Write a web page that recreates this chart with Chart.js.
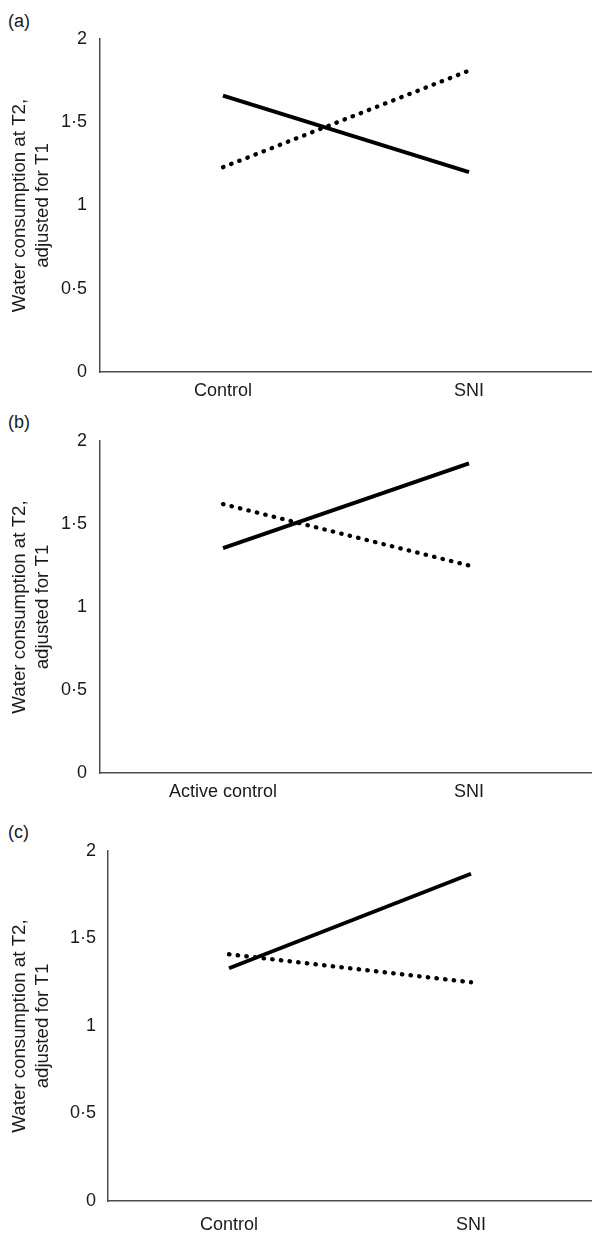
<!DOCTYPE html>
<html>
<head>
<meta charset="utf-8">
<script src="https://cdn.jsdelivr.net/npm/chart.js@4.4.1/dist/chart.umd.min.js"></script>
<style>
  body { margin: 0; background: #fff; }
  #wrap { position: relative; width: 592px; height: 1233px; }
  canvas { position: absolute; left: 0; }
  .lbl { position: absolute; left: 8px; font: 18px "Liberation Sans", Arial, sans-serif; line-height: 18px; color: #1a1a1a; }
</style>
</head>
<body>
<div id="wrap">
  <div class="lbl" style="top:12px">(a)</div>
  <canvas id="chartA" width="592" height="405" style="top:0px"></canvas>
  <div class="lbl" style="top:413px">(b)</div>
  <canvas id="chartB" width="592" height="410" style="top:405px"></canvas>
  <div class="lbl" style="top:823px">(c)</div>
  <canvas id="chartC" width="592" height="418" style="top:815px"></canvas>
</div>
<script>
// data
var categoriesA = ['Control', 'SNI'];
var solidA = [1.66, 1.20];
var dottedA = [1.23, 1.81];

var categoriesB = ['Active control', 'SNI'];
var solidB = [1.355, 1.865];
var dottedB = [1.62, 1.25];

var categoriesC = ['Control', 'SNI'];
var solidC = [1.33, 1.87];
var dottedC = [1.41, 1.25];

var yTicks = [0, 0.5, 1, 1.5, 2];
var yTickLabels = ['0', '0·5', '1', '1·5', '2'];
var yTitle = ['Water consumption at T2,', 'adjusted for T1'];

var FONT = '"Liberation Sans", Arial, sans-serif';
var TEXT = '#1a1a1a';
var AXIS = '#4d4d4d';

function makePanel(id, cats, solid, dotted, g) {
    var ctx = document.getElementById(id).getContext('2d');
    return new Chart(ctx, {
        type: 'line',
        data: {
            labels: cats,
            datasets: [
                { data: solid, borderColor: '#000', borderWidth: 4, pointRadius: 0,
                  borderCapStyle: 'butt', tension: 0, fill: false },
                { data: dotted, borderColor: '#000', borderWidth: 4.3, pointRadius: 0,
                  borderCapStyle: 'round', borderDash: [0.5, 8.2], tension: 0, fill: false }
            ]
        },
        options: {
            responsive: false,
            animation: false,
            devicePixelRatio: 1,
            layout: { padding: { top: g.top, right: 0, bottom: 0, left: 0 } },
            plugins: { legend: { display: false }, tooltip: { enabled: false } },
            scales: {
                x: {
                    type: 'category',
                    offset: true,
                    grid: { display: false, drawTicks: false },
                    border: { display: true, color: AXIS, width: 1.5 },
                    ticks: { color: TEXT, font: { family: FONT, size: 18 }, padding: g.xPad, maxRotation: 0 },
                    afterFit: function (s) { s.height = g.h - g.bottom; }
                },
                y: {
                    min: 0, max: 2,
                    grid: { display: false, drawTicks: false },
                    border: { display: true, color: AXIS, width: 1.5 },
                    afterBuildTicks: function (s) {
                        s.ticks = yTicks.map(function (v) { return { value: v }; });
                    },
                    ticks: {
                        color: TEXT, font: { family: FONT, size: 18 }, padding: g.yPad,
                        callback: function (v) { return yTickLabels[yTicks.indexOf(v)]; }
                    },
                    title: {
                        display: true, text: yTitle, color: TEXT,
                        font: { family: FONT, size: 18.7, lineHeight: 1.22 },
                        padding: { top: 8.5, bottom: 0 }
                    },
                    afterFit: function (s) { s.width = g.left; }
                }
            }
        }
    });
}

makePanel('chartA', categoriesA, solidA, dottedA, { h: 405, top: 39, bottom: 372, left: 100, xPad: 8.5, yPad: 13 });
makePanel('chartB', categoriesB, solidB, dottedB, { h: 410, top: 36, bottom: 368, left: 100, xPad: 8.5, yPad: 13 });
makePanel('chartC', categoriesC, solidC, dottedC, { h: 418, top: 36, bottom: 386, left: 108, xPad: 13.5, yPad: 12 });
</script>
</body>
</html>
